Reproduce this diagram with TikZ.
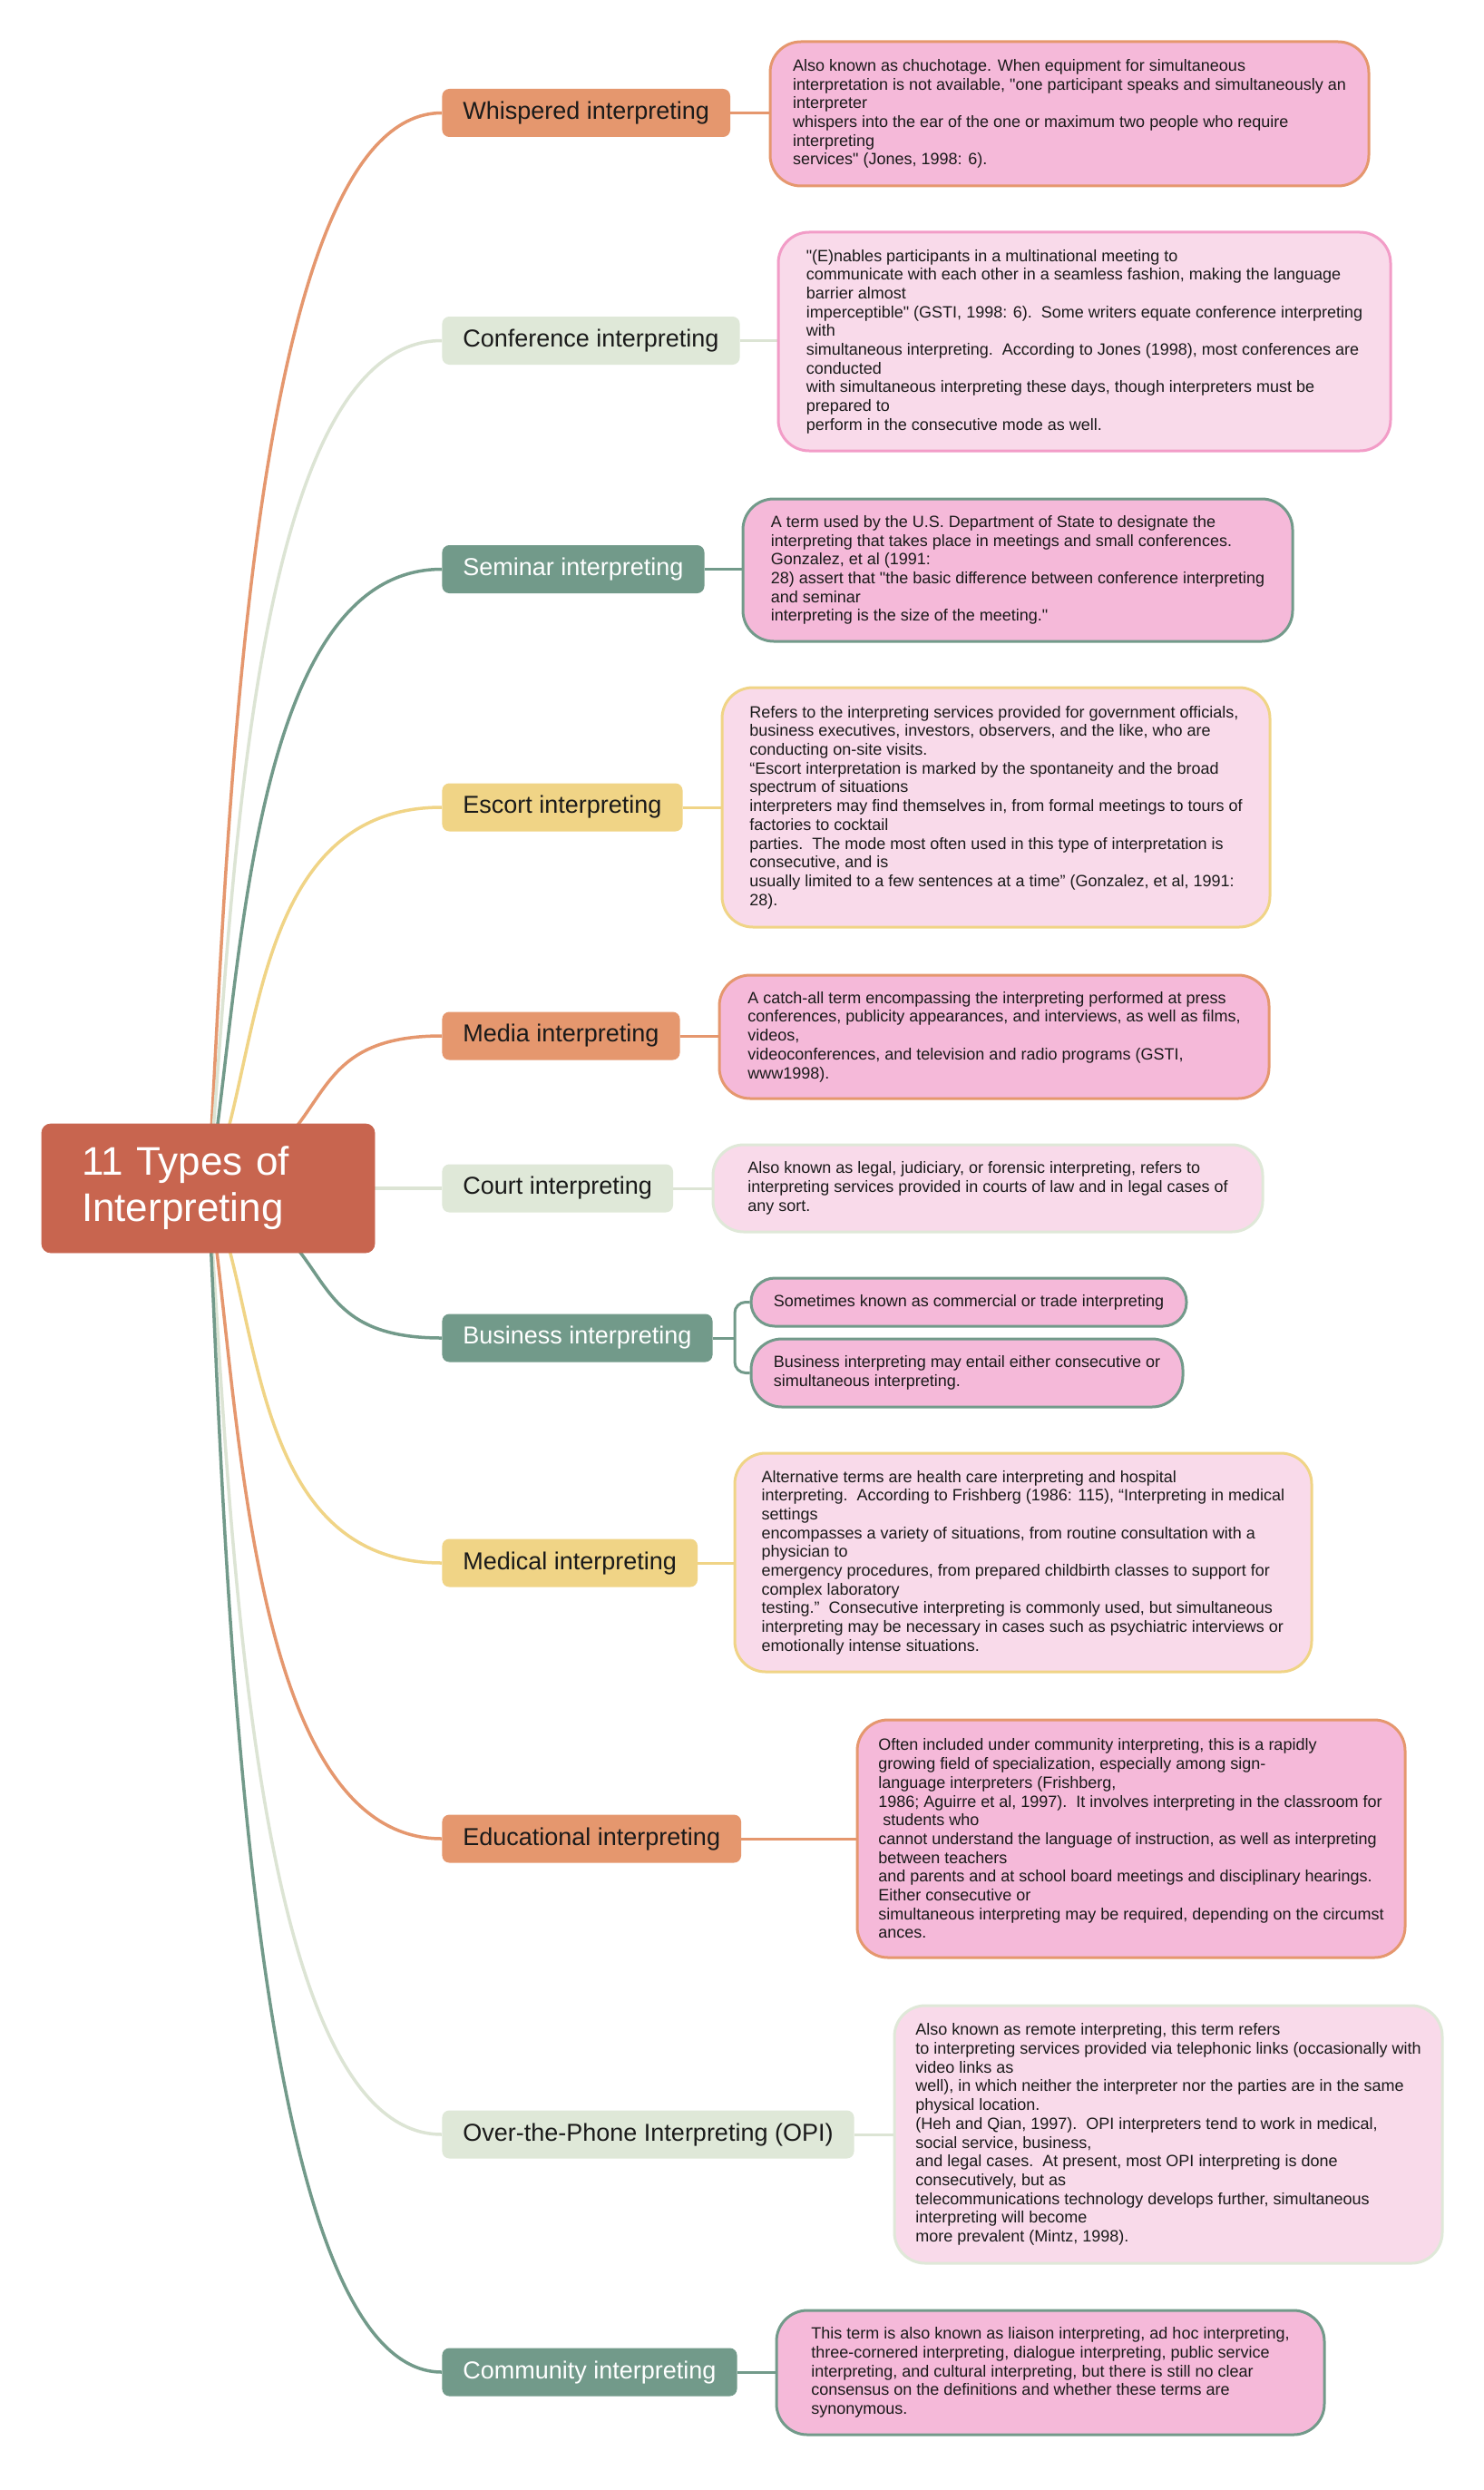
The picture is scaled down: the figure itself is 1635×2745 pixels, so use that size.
\documentclass[tikz,border=0pt]{standalone}
\usepackage{fontspec}
\setmainfont{Liberation Sans}[Ligatures=TeXOff]
\usetikzlibrary{backgrounds,calc}
\definecolor{rootc}{HTML}{C8654F}
\definecolor{orangec}{HTML}{E5976E}
\definecolor{greenc}{HTML}{DFE8D8}
\definecolor{greenl}{HTML}{DCE4D4}
\definecolor{tealc}{HTML}{729A8A}
\definecolor{yellowc}{HTML}{F0D486}
\definecolor{pinkc}{HTML}{F5B9D9}
\definecolor{lpinkc}{HTML}{F9DAEA}
\definecolor{pinkb}{HTML}{F29CC7}
\definecolor{txt}{HTML}{1A1A1A}
\begin{document}
\begin{tikzpicture}[x=0.5pt,y=-0.5pt,
  rootbox/.style={fill=rootc, draw=rootc, rounded corners=5pt, text=white, align=left,
    text width=139.5pt, inner xsep=22pt, minimum height=71pt, font=\fontsize{22}{25.5}\selectfont},
  br/.style={rounded corners=4pt, minimum height=26.5pt, inner xsep=11.5pt, inner ysep=0pt,
    font=\fontsize{13.5}{16}\selectfont, anchor=west},
  brO/.style={br, fill=orangec, text=txt},
  brG/.style={br, fill=greenc, text=txt},
  brT/.style={br, fill=tealc, text=white},
  brY/.style={br, fill=yellowc, text=txt},
  det/.style={rounded corners=17pt, line width=1.5pt, align=left, text=txt,
    font=\fontsize{9}{10.35}\selectfont, inner sep=0pt},
  curve/.style={line width=1.75pt},
  conn/.style={line width=1.5pt}
]
\useasboundingbox (0,0) rectangle (1635,2745);

% root
\node[rootbox] (root) at (229.5,1310) {11 Types of\\Interpreting};

% branches
\node[brO] (b1) at (487,124.5) {Whispered interpreting};
\node[brG] (b2) at (487,375.5) {Conference interpreting};
\node[brT] (b3) at (487,627.5) {Seminar interpreting};
\node[brY] (b4) at (487,890) {Escort interpreting};
\node[brO] (b5) at (487,1142) {Media interpreting};
\node[brG] (b6) at (487,1310) {Court interpreting};
\node[brT] (b7) at (487,1475) {Business interpreting};
\node[brY] (b8) at (487,1723) {Medical interpreting};
\node[brO] (b9) at (487,2027) {Educational interpreting};
\node[brG] (b10) at (487,2353) {Over-the-Phone Interpreting (OPI)};
\node[brT] (b11) at (487,2615) {Community interpreting};

% details
\node[det, fill=pinkc, draw=orangec, minimum width=330pt, minimum height=79.5pt] (d1) at (1179,125.5)
{Also known as chuchotage. When equipment for simultaneous\\
interpretation is not available, "one participant speaks and simultaneously an\\
interpreter\\
whispers into the ear of the one or maximum two people who require\\
interpreting\\
services" (Jones, 1998: 6).};

\node[det, fill=lpinkc, draw=pinkb, minimum width=337.5pt, minimum height=120.5pt] (d2) at (1195.5,376.5)
{"(E)nables participants in a multinational meeting to\\
communicate with each other in a seamless fashion, making the language\\
barrier almost\\
imperceptible" (GSTI, 1998: 6).\ \ Some writers equate conference interpreting\\
with\\
simultaneous interpreting.\ \ According to Jones (1998), most conferences are\\
conducted\\
with simultaneous interpreting these days, though interpreters must be\\
prepared to\\
perform in the consecutive mode as well.};

\node[det, fill=pinkc, draw=tealc, minimum width=303pt, minimum height=78.5pt] (d3) at (1122,628.5)
{A term used by the U.S. Department of State to designate the\\
interpreting that takes place in meetings and small conferences.\\
Gonzalez, et al (1991:\\
28) assert that "the basic difference between conference interpreting\\
and seminar\\
interpreting is the size of the meeting."};

\node[det, fill=lpinkc, draw=yellowc, minimum width=302pt, minimum height=132pt] (d4) at (1098,890)
{Refers to the interpreting services provided for government officials,\\
business executives, investors, observers, and the like, who are\\
conducting on-site visits.\\
“Escort interpretation is marked by the spontaneity and the broad\\
spectrum of situations\\
interpreters may find themselves in, from formal meetings to tours of\\
factories to cocktail\\
parties.\ \ The mode most often used in this type of interpretation is\\
consecutive, and is\\
usually limited to a few sentences at a time” (Gonzalez, et al, 1991:\\
28).};

\node[det, fill=pinkc, draw=orangec, minimum width=303pt, minimum height=68pt] (d5) at (1096,1143)
{A catch-all term encompassing the interpreting performed at press\\
conferences, publicity appearances, and interviews, as well as films,\\
videos,\\
videoconferences, and television and radio programs (GSTI,\\
www1998).};

\node[det, fill=lpinkc, draw=greenc, minimum width=303pt, minimum height=48pt] (d6) at (1089,1310)
{Also known as legal, judiciary, or forensic interpreting, refers to\\
interpreting services provided in courts of law and in legal cases of\\
any sort.};

\node[det, fill=pinkc, draw=tealc, rounded corners=13pt, minimum width=240pt, minimum height=26.5pt] (d7a) at (1068,1435.5)
{Sometimes known as commercial or trade interpreting};
\node[det, fill=pinkc, draw=tealc, rounded corners=17pt, minimum width=238pt, minimum height=37.5pt] (d7b) at (1066,1513.5)
{Business interpreting may entail either consecutive or\\
simultaneous interpreting.};

\node[det, fill=lpinkc, draw=yellowc, minimum width=318pt, minimum height=120.5pt] (d8) at (1128,1722.5)
{Alternative terms are health care interpreting and hospital\\
interpreting.\ \ According to Frishberg (1986: 115), “Interpreting in medical\\
settings\\
encompasses a variety of situations, from routine consultation with a\\
physician to\\
emergency procedures, from prepared childbirth classes to support for\\
complex laboratory\\
testing.”\ \ Consecutive interpreting is commonly used, but simultaneous\\
interpreting may be necessary in cases such as psychiatric interviews or\\
emotionally intense situations.};

\node[det, fill=pinkc, draw=orangec, minimum width=302pt, minimum height=131pt] (d9) at (1247,2027)
{Often included under community interpreting, this is a rapidly\\
growing field of specialization, especially among sign-\\
language interpreters (Frishberg,\\
1986; Aguirre et al, 1997).\ \ It involves interpreting in the classroom for\\
\ students who\\
cannot understand the language of instruction, as well as interpreting\\
between teachers\\
and parents and at school board meetings and disciplinary hearings.\\
Either consecutive or\\
simultaneous interpreting may be required, depending on the circumst\\
ances.};

\node[det, fill=lpinkc, draw=greenc, minimum width=302pt, minimum height=142pt] (d10) at (1288,2353)
{Also known as remote interpreting, this term refers\\
to interpreting services provided via telephonic links (occasionally with\\
video links as\\
well), in which neither the interpreter nor the parties are in the same\\
physical location.\\
(Heh and Qian, 1997).\ \ OPI interpreters tend to work in medical,\\
social service, business,\\
and legal cases.\ \ At present, most OPI interpreting is done\\
consecutively, but as\\
telecommunications technology develops further, simultaneous\\
interpreting will become\\
more prevalent (Mintz, 1998).};

\node[det, fill=pinkc, draw=tealc, minimum width=302pt, minimum height=68.5pt] (d11) at (1158,2615.5)
{This term is also known as liaison interpreting, ad hoc interpreting,\\
three-cornered interpreting, dialogue interpreting, public service\\
interpreting, and cultural interpreting, but there is still no clear\\
consensus on the definitions and whether these terms are\\
synonymous.};

\coordinate (fork) at (810,1475);

\begin{scope}[on background layer]
  \fill[white] (0,0) rectangle (1635,2745);
  \draw[curve, orangec] (root.center) .. controls (250.6,954.4) and (269.5,124.5) .. (b1.west);
  \draw[curve, greenl]  (root.center) .. controls (256.3,1029.7) and (269.5,375.5) .. (b2.west);
  \draw[curve, tealc]   (root.center) .. controls (266.1,1105.3) and (269.5,627.5) .. (b3.west);
  \draw[curve, yellowc] (root.center) .. controls (289,1184) and (269.5,890) .. (b4.west);
  \draw[curve, orangec] (root.center) .. controls (378.3,1259.6) and (320,1142) .. (b5.west);
  \draw[curve, greenl]  (root.center) -- (b6.west);
  \draw[curve, tealc]   (root.center) .. controls (381,1359.5) and (320,1475) .. (b7.west);
  \draw[curve, yellowc] (root.center) .. controls (290,1433.9) and (269.5,1723) .. (b8.west);
  \draw[curve, orangec] (root.center) .. controls (264.4,1525.1) and (269.5,2027) .. (b9.west);
  \draw[curve, greenl]  (root.center) .. controls (253.5,1622.9) and (269.5,2353) .. (b10.west);
  \draw[curve, tealc]   (root.center) .. controls (248.7,1701.5) and (269.5,2615) .. (b11.west);

  \draw[conn, orangec] (b1.east) -- (b1.east -| d1.west);
  \draw[conn, greenl] (b2.east) -- (b2.east -| d2.west);
  \draw[conn, tealc] (b3.east) -- (b3.east -| d3.west);
  \draw[conn, yellowc] (b4.east) -- (b4.east -| d4.west);
  \draw[conn, orangec] (b5.east) -- (b5.east -| d5.west);
  \draw[conn, greenl] (b6.east) -- (b6.east -| d6.west);
  \draw[conn, tealc] (b7.east) -- (fork);
  \draw[conn, tealc, rounded corners=6pt] (d7a.west) -| (fork) |- (d7b.west);
  \draw[conn, yellowc] (b8.east) -- (b8.east -| d8.west);
  \draw[conn, orangec] (b9.east) -- (b9.east -| d9.west);
  \draw[conn, greenl] (b10.east) -- (b10.east -| d10.west);
  \draw[conn, tealc] (b11.east) -- (b11.east -| d11.west);
\end{scope}
\end{tikzpicture}
\end{document}
